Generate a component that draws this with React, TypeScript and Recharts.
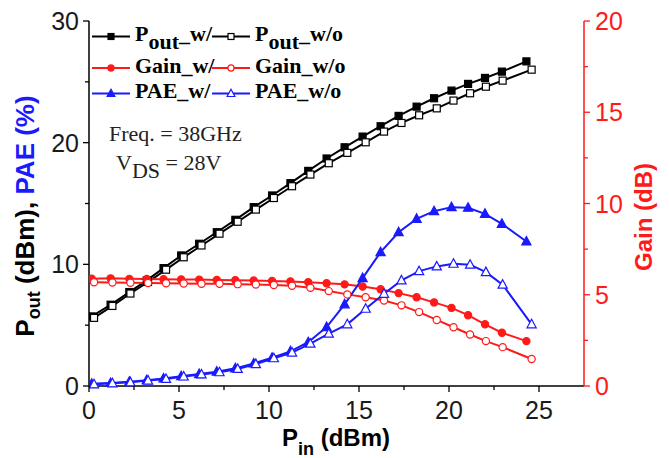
import { Line, LineChart, XAxis, YAxis } from "recharts";

// Pin sweep (dBm); the w/o sweep sits slightly to the right
const pinW = [0.15, 1.2, 2.24, 3.21, 4.14, 5.12, 6.12, 7.1, 8.13, 9.15, 10.17, 11.19, 12.18, 13.2, 14.2, 15.2, 16.2, 17.2, 18.2, 19.17, 20.14, 21.06, 22.0, 22.94, 24.3];
const pinWo = [0.28, 1.3, 2.3, 3.28, 4.28, 5.26, 6.25, 7.25, 8.26, 9.27, 10.27, 11.28, 12.3, 13.32, 14.35, 15.37, 16.39, 17.36, 18.34, 19.32, 20.25, 21.17, 22.05, 22.98, 24.59];

const poutW = [5.72, 6.68, 7.72, 8.68, 9.69, 10.73, 11.69, 12.64, 13.66, 14.7, 15.66, 16.67, 17.68, 18.7, 19.62, 20.5, 21.35, 22.2, 22.96, 23.65, 24.28, 24.83, 25.32, 25.84, 26.68];
const poutWo = [5.6, 6.58, 7.6, 8.55, 9.56, 10.58, 11.55, 12.52, 13.5, 14.5, 15.45, 16.42, 17.38, 18.31, 19.16, 20.03, 20.91, 21.62, 22.25, 22.82, 23.46, 24.06, 24.6, 25.1, 26.0];

const gainW = [5.88, 5.9, 5.87, 5.86, 5.85, 5.84, 5.83, 5.81, 5.8, 5.78, 5.76, 5.73, 5.69, 5.63, 5.57, 5.45, 5.3, 5.09, 4.86, 4.58, 4.28, 3.88, 3.38, 2.92, 2.46];
const gainWo = [5.68, 5.67, 5.66, 5.64, 5.63, 5.62, 5.6, 5.6, 5.58, 5.56, 5.53, 5.49, 5.38, 5.2, 5.02, 4.86, 4.68, 4.42, 4.05, 3.62, 3.22, 2.82, 2.46, 2.13, 1.48];

const paeW = [0.18, 0.25, 0.35, 0.48, 0.62, 0.8, 0.98, 1.18, 1.45, 1.85, 2.32, 2.85, 3.6, 4.84, 6.71, 8.87, 11.0, 12.64, 13.74, 14.37, 14.7, 14.65, 14.15, 13.33, 11.88];
const paeWo = [0.14, 0.22, 0.3, 0.45, 0.58, 0.78, 0.95, 1.13, 1.4, 1.8, 2.28, 2.75, 3.48, 4.3, 5.07, 6.35, 7.58, 8.68, 9.44, 9.83, 10.05, 9.97, 9.36, 8.33, 5.07];

const xTicks = [0, 2.5, 5, 7.5, 10, 12.5, 15, 17.5, 20, 22.5, 25];
const leftTicks = [0, 5, 10, 15, 20, 25, 30];
const rightTicks = [0, 2.5, 5, 7.5, 10, 12.5, 15, 17.5, 20];

const BLACK = "#000000";
const RED = "#ff1a1a";
const BLUE = "#1a1aff";
const SANS = "'Liberation Sans', Arial, sans-serif";
const SERIF = "'Liberation Serif', 'Times New Roman', serif";

const pts = (xs: number[], ys: number[]) => xs.map((x, i) => ({ x, y: ys[i] }));

type Shape = "square" | "circle" | "triangle";

const Marker = ({ cx, cy, shape, color, filled, s = 1 }: { cx: number; cy: number; shape: Shape; color: string; filled: boolean; s?: number }) => {
    const fill = filled ? color : "#fff";
    if (shape === "square") return <rect x={cx - 3.5 * s} y={cy - 3.5 * s} width={7 * s} height={7 * s} fill={fill} stroke={color} strokeWidth={1.2} />;
    if (shape === "circle") return <circle cx={cx} cy={cy} r={3.6 * s} fill={fill} stroke={color} strokeWidth={1.2} />;
    return <polygon points={`${cx},${cy - 5 * s} ${cx - 4.6 * s},${cy + 3.5 * s} ${cx + 4.6 * s},${cy + 3.5 * s}`} fill={fill} stroke={color} strokeWidth={1.2} />;
};

const dotFor = (shape: Shape, color: string, filled: boolean) => (p: any) => (
    <Marker key={`d-${p.index}`} cx={p.cx} cy={p.cy} shape={shape} color={color} filled={filled} />
);

const XTick = ({ x, y, payload }: any) => {
    const major = payload.value % 5 === 0;
    return (
        <g>
            <line x1={x} x2={x} y1={y} y2={y + (major ? 6 : 4)} stroke={BLACK} strokeWidth={1.3} />
            {major && (
                <text x={x} y={y + 33} textAnchor="middle" fontSize={25} fontFamily={SANS} fill="#1a1a1a">
                    {payload.value}
                </text>
            )}
        </g>
    );
};

const LeftTick = ({ x, y, payload }: any) => {
    const major = payload.value % 10 === 0;
    return (
        <g>
            <line x1={x - (major ? 6 : 4)} x2={x} y1={y} y2={y} stroke={BLACK} strokeWidth={1.3} />
            {major && (
                <text x={x - 10} y={y + 9} textAnchor="end" fontSize={25} fontFamily={SANS} fill="#1a1a1a">
                    {payload.value}
                </text>
            )}
        </g>
    );
};

const RightTick = ({ x, y, payload }: any) => {
    const major = payload.value % 5 === 0;
    return (
        <g>
            <line x1={x} x2={x + (major ? 6 : 4)} y1={y} y2={y} stroke={RED} strokeWidth={1.3} />
            {major && (
                <text x={x + 11} y={y + 9} textAnchor="start" fontSize={25} fontFamily={SANS} fill={RED}>
                    {payload.value}
                </text>
            )}
        </g>
    );
};

const LegendItem = ({ x, y, shape, color, filled, children }: { x: number; y: number; shape: Shape; color: string; filled: boolean; children: any }) => (
    <g>
        <line x1={x} x2={x + 38} y1={y} y2={y} stroke={color} strokeWidth={2} />
        <Marker cx={x + 19} cy={y} shape={shape} color={color} filled={filled} s={0.85} />
        <text x={x + 43} y={y + 4.5} fontSize={22} fontWeight="bold" fontFamily={SERIF} fill={BLACK}>
            {children}
        </text>
    </g>
);

export default function App() {
    return (
        <div style={{ position: "absolute", left: 0, top: 0, width: 669, height: 458, background: "#fff" }}>
            <LineChart width={669} height={458} margin={{ top: 21, right: 25, bottom: 32, left: 29 }}>
                <XAxis xAxisId="top" orientation="top" type="number" domain={[0, 27.5]} height={0} tick={false} tickLine={false} axisLine={{ stroke: BLACK, strokeWidth: 1.5 }} />
                <XAxis dataKey="x" type="number" domain={[0, 27.5]} ticks={xTicks} height={40} tickSize={0} tickMargin={0} tickLine={false} tick={<XTick />} axisLine={{ stroke: BLACK, strokeWidth: 1.5 }} allowDataOverflow />
                <YAxis yAxisId="left" domain={[0, 30]} ticks={leftTicks} width={60} tickSize={0} tickMargin={0} tickLine={false} tick={<LeftTick />} axisLine={{ stroke: BLACK, strokeWidth: 1.5 }} />
                <YAxis yAxisId="right" orientation="right" domain={[0, 20]} ticks={rightTicks} width={60} tickSize={0} tickMargin={0} tickLine={false} tick={<RightTick />} axisLine={{ stroke: RED, strokeWidth: 1.5 }} />

                <Line yAxisId="left" data={pts(pinW, poutW)} dataKey="y" stroke={BLACK} strokeWidth={2} dot={dotFor("square", BLACK, true)} isAnimationActive={false} />
                <Line yAxisId="left" data={pts(pinWo, poutWo)} dataKey="y" stroke={BLACK} strokeWidth={2} dot={dotFor("square", BLACK, false)} isAnimationActive={false} />
                <Line yAxisId="right" data={pts(pinW, gainW)} dataKey="y" stroke={RED} strokeWidth={2} dot={dotFor("circle", RED, true)} isAnimationActive={false} />
                <Line yAxisId="right" data={pts(pinWo, gainWo)} dataKey="y" stroke={RED} strokeWidth={2} dot={dotFor("circle", RED, false)} isAnimationActive={false} />
                <Line yAxisId="left" data={pts(pinW, paeW)} dataKey="y" stroke={BLUE} strokeWidth={2} dot={dotFor("triangle", BLUE, true)} isAnimationActive={false} />
                <Line yAxisId="left" data={pts(pinWo, paeWo)} dataKey="y" stroke={BLUE} strokeWidth={2} dot={dotFor("triangle", BLUE, false)} isAnimationActive={false} />
            </LineChart>

            <svg width={669} height={458} style={{ position: "absolute", left: 0, top: 0, pointerEvents: "none" }}>
                <LegendItem x={92} y={36.5} shape="square" color={BLACK} filled>
                    <tspan>P</tspan>
                    <tspan dy={7.5}>out–</tspan>
                    <tspan dy={-7.5}>w/</tspan>
                </LegendItem>
                <LegendItem x={212} y={36.5} shape="square" color={BLACK} filled={false}>
                    <tspan>P</tspan>
                    <tspan dy={7.5}>out–</tspan>
                    <tspan dy={-7.5}>w/o</tspan>
                </LegendItem>
                <LegendItem x={92} y={68} shape="circle" color={RED} filled>Gain_w/</LegendItem>
                <LegendItem x={212} y={68} shape="circle" color={RED} filled={false}>Gain_w/o</LegendItem>
                <LegendItem x={92} y={93.5} shape="triangle" color={BLUE} filled>PAE_w/</LegendItem>
                <LegendItem x={212} y={93.5} shape="triangle" color={BLUE} filled={false}>PAE_w/o</LegendItem>

                <text x={109} y={140.5} fontSize={22} fontFamily={SERIF} fill="#222">Freq. = 38GHz</text>
                <text x={116} y={169.5} fontSize={22} fontFamily={SERIF} fill="#222">
                    <tspan>V</tspan>
                    <tspan dy={8}>DS</tspan>
                    <tspan dy={-8}> = 28V</tspan>
                </text>

                <text transform="translate(34,216) rotate(-90)" textAnchor="middle" fontSize={26} fontWeight="bold" fontFamily={SANS}>
                    <tspan fill={BLACK}>P</tspan>
                    <tspan fill={BLACK} fontSize={18} dy={6}>out</tspan>
                    <tspan fill={BLACK} dy={-6}> (dBm), </tspan>
                    <tspan fill={BLUE}>PAE (%)</tspan>
                </text>
                <text transform="translate(652,217) rotate(-90)" textAnchor="middle" fontSize={24} fontWeight="bold" fontFamily={SANS} fill={RED}>
                    Gain (dB)
                </text>
                <text x={336} y={446} textAnchor="middle" fontSize={24} fontWeight="bold" fontFamily={SANS} fill={BLACK}>
                    <tspan>P</tspan>
                    <tspan fontSize={18} dy={9}>in</tspan>
                    <tspan dy={-9}> (dBm)</tspan>
                </text>
            </svg>
        </div>
    );
}
